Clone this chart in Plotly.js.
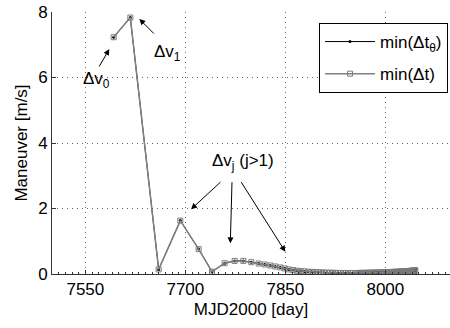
<!DOCTYPE html>
<html>
<head>
<meta charset="utf-8">
<script src="https://cdn.plot.ly/plotly-3.0.1.min.js"></script>
<style>html,body{margin:0;padding:0;background:#fff;overflow:hidden}</style>
</head>
<body>
<div id="chart" style="width:450px;height:328px"></div>
<script>
// Maneuver epochs (MJD2000 day) and magnitudes (m/s) for min(Δt)
const daysDt = [7592.5, 7617.5, 7660, 7692.5, 7720, 7740, 7759, 7774, 7787, 7799, 7810, 7819, 7827.5, 7835, 7842.5, 7849, 7855, 7861.5, 7867.5,
  7873, 7878.5, 7884, 7889, 7894, 7899, 7903.5, 7908, 7912.5, 7917, 7921, 7925, 7929, 7933, 7937, 7940.5, 7944, 7947.5, 7951, 7954.5, 7958,
  7961, 7964, 7967, 7970, 7973, 7976, 7979, 7981.5, 7984, 7986.5, 7989, 7991.5, 7994, 7996.5, 7999, 8001, 8003, 8005, 8007, 8009, 8011, 8013,
  8015, 8017, 8019, 8021, 8022.5, 8024, 8025.5, 8027, 8028.5, 8030, 8031.5, 8033, 8034.5, 8036, 8037.5, 8039, 8040.5, 8042, 8043.5, 8045];
const valsDt = [7.23, 7.83, 0.14, 1.63, 0.76, 0.07, 0.33, 0.40, 0.40, 0.36, 0.32, 0.29, 0.26, 0.23, 0.20, 0.17, 0.14, 0.12, 0.10,
  0.09, 0.08, 0.07, 0.065, 0.06, 0.055, 0.05, 0.045, 0.04, 0.04, 0.035, 0.035, 0.03, 0.03, 0.03, 0.03, 0.03, 0.03, 0.03, 0.03, 0.03,
  0.035, 0.035, 0.035, 0.035, 0.04, 0.04, 0.04, 0.04, 0.045, 0.045, 0.045, 0.05, 0.05, 0.05, 0.055, 0.055, 0.055, 0.06, 0.06, 0.06, 0.065, 0.065,
  0.065, 0.07, 0.07, 0.07, 0.075, 0.075, 0.08, 0.08, 0.08, 0.085, 0.085, 0.09, 0.09, 0.095, 0.095, 0.1, 0.1, 0.105, 0.11, 0.115];
// min(Δtθ): same sequence, with a final burst at the end
const endDaysTheta = [8045.5, 8046];
const endValsTheta = [0.01, 0.15];
const daysTheta = daysDt.concat(endDaysTheta);
const valsTheta = valsDt.concat(endValsTheta);

const xTicks = [7550, 7700, 7850, 8000];
const yTicks = [0, 2, 4, 6, 8];

const font = {family: 'Liberation Sans, Arial, sans-serif', size: 17, color: '#000'};

const traces = [
  {x: daysTheta, y: valsTheta, type: 'scatter', mode: 'lines+markers', name: 'min(Δt<sub>θ</sub>)', legendgroup: 'a',
   line: {color: '#000', width: 1}, marker: {symbol: 'circle', size: 3, color: '#000'}},
  {x: daysDt, y: valsDt, type: 'scatter', mode: 'lines+markers', name: 'min(Δt)', legendgroup: 'b',
   line: {color: '#808080', width: 1.5}, marker: {symbol: 'square-open', size: 5, color: '#7a7a7a', line: {width: 1}}}
];

function px2x(px){ return 7550 + (px - 85) * 1.5; }
function py2y(py){ return (274 - py) / 32.75; }

const arrow = (hx, hy, tx, ty) => ({x: px2x(hx), y: py2y(hy), xref: 'x', yref: 'y', ax: tx - hx, ay: ty - hy,
  showarrow: true, arrowhead: 2, arrowsize: 1.2, arrowwidth: 1, arrowcolor: '#000', text: ''});
const label = (cx, cy, t) => ({x: px2x(cx), y: py2y(cy), xref: 'x', yref: 'y', text: t, showarrow: false, font: font});

const grid = {showgrid: true, gridcolor: '#666', griddash: '1px,4px', gridwidth: 1};

const layout = {
  width: 450, height: 328,
  margin: {l: 52, r: 0, t: 12, b: 54},
  paper_bgcolor: '#fff', plot_bgcolor: '#fff',
  font: font,
  showlegend: true,
  legend: {x: 0.995, y: 0.958, xanchor: 'right', yanchor: 'top', bgcolor: '#fff', bordercolor: '#000', borderwidth: 1,
           font: font, tracegroupgap: 7, itemwidth: 50},
  xaxis: Object.assign({range: [7500, 8097], tickvals: xTicks, ticktext: xTicks.map(String), ticks: 'inside', ticklen: 4, tickcolor: '#333',
          showline: true, linecolor: '#333', linewidth: 1, zeroline: false,
          minor: {dtick: 10, tick0: 7500, ticks: 'inside', ticklen: 2, tickcolor: '#333', showgrid: false},
          title: {text: 'MJD2000 [day]', font: font, standoff: 4}, tickfont: font}, grid),
  yaxis: Object.assign({range: [0, 8], tickvals: yTicks, ticks: 'inside', ticklen: 4, tickcolor: '#333',
          showline: true, linecolor: '#333', linewidth: 1, zeroline: false,
          title: {text: 'Maneuver [m/s]', font: font, standoff: 6}, tickfont: font}, grid),
  annotations: [
    arrow(109, 49, 98, 68),
    label(96, 80, 'Δv<sub>0</sub>'),
    arrow(139, 19, 155, 35),
    label(167, 53, 'Δv<sub>1</sub>'),
    arrow(190.7, 209.3, 221.7, 180.7),
    arrow(230, 243.3, 231.7, 180.7),
    arrow(285, 251.7, 240, 180.7),
    label(243, 162, 'Δv<sub>j</sub> (j>1)')
  ]
};

Plotly.newPlot('chart', traces, layout, {displayModeBar: false, staticPlot: true});
</script>
</body>
</html>
